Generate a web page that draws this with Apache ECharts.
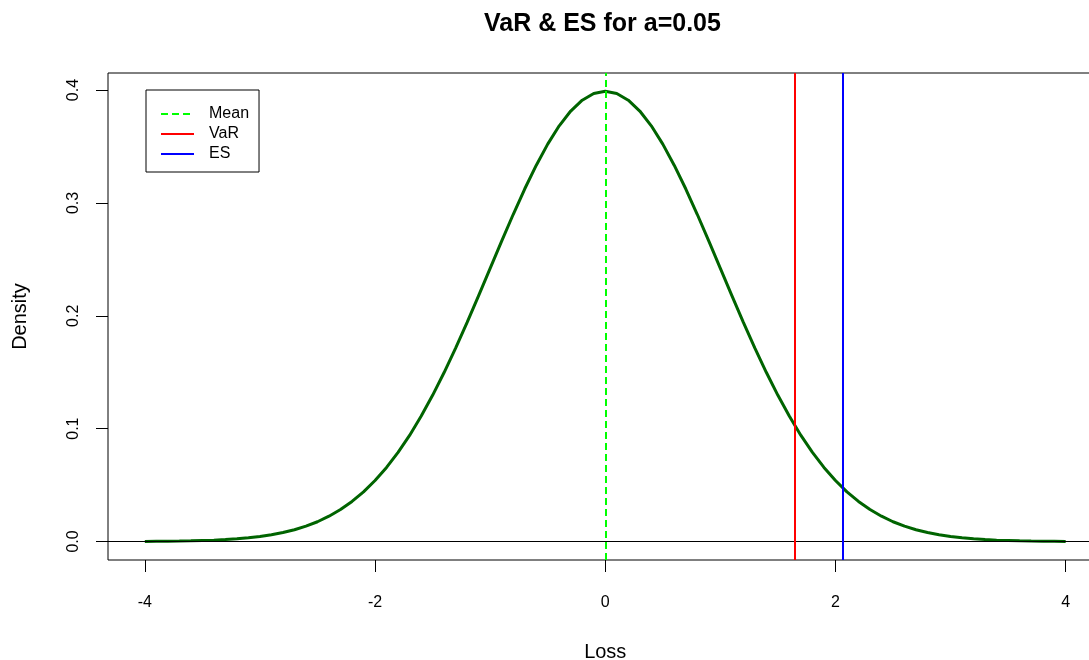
<!DOCTYPE html>
<html>
<head>
<meta charset="utf-8">
<script src="https://cdn.jsdelivr.net/npm/echarts@6/dist/echarts.min.js"></script>
<style>
  html, body { margin: 0; padding: 0; background: #ffffff; }
  #chart { width: 1089px; height: 660px; }
</style>
</head>
<body>
<div id="chart"></div>
<script>
// ---- data ----
const lossValues = [
  -4.0,-3.9,-3.8,-3.7,-3.6,-3.5,-3.4,-3.3,-3.2,-3.1,-3.0,-2.9,-2.8,-2.7,-2.6,-2.5,-2.4,-2.3,-2.2,-2.1,
  -2.0,-1.9,-1.8,-1.7,-1.6,-1.5,-1.4,-1.3,-1.2,-1.1,-1.0,-0.9,-0.8,-0.7,-0.6,-0.5,-0.4,-0.3,-0.2,-0.1,
  0.0,0.1,0.2,0.3,0.4,0.5,0.6,0.7,0.8,0.9,1.0,1.1,1.2,1.3,1.4,1.5,1.6,1.7,1.8,1.9,
  2.0,2.1,2.2,2.3,2.4,2.5,2.6,2.7,2.8,2.9,3.0,3.1,3.2,3.3,3.4,3.5,3.6,3.7,3.8,3.9,4.0
];
const densityValues = [
  0.0001,0.0002,0.0003,0.0004,0.0006,0.0009,0.0012,0.0017,0.0024,0.0033,0.0044,0.0060,0.0079,0.0104,0.0136,0.0175,0.0224,0.0283,0.0355,0.0440,
  0.0540,0.0656,0.0790,0.0940,0.1109,0.1295,0.1497,0.1714,0.1942,0.2179,0.2420,0.2661,0.2897,0.3123,0.3332,0.3521,0.3683,0.3814,0.3910,0.3970,
  0.3989,0.3970,0.3910,0.3814,0.3683,0.3521,0.3332,0.3123,0.2897,0.2661,0.2420,0.2179,0.1942,0.1714,0.1497,0.1295,0.1109,0.0940,0.0790,0.0656,
  0.0540,0.0440,0.0355,0.0283,0.0224,0.0175,0.0136,0.0104,0.0079,0.0060,0.0044,0.0033,0.0024,0.0017,0.0012,0.0009,0.0006,0.0004,0.0003,0.0002,0.0001
];
const meanValue = 0;
const varValue = 1.645;
const esValue = 2.063;
const xTicks = [-4, -2, 0, 2, 4];
const yTicks = [0, 0.1, 0.2, 0.3, 0.4];
const legendNames = ['Mean', 'VaR', 'ES'];
const titleText = 'VaR & ES for a=0.05';

// ---- chart ----
const FONT = "'Liberation Sans', Arial, sans-serif";
const chart = echarts.init(document.getElementById('chart'), null, { renderer: 'canvas' });

const curveData = lossValues.map((x, i) => [x, densityValues[i]]);

function vline(name, value, color, type) {
  return {
    name: name,
    type: 'line',
    data: [],
    symbol: 'none',
    showSymbol: false,
    lineStyle: { color: color, width: 2, type: type },
    itemStyle: { color: 'rgba(0,0,0,0)', borderWidth: 0 },
    markLine: {
      silent: true,
      symbol: 'none',
      label: { show: false },
      lineStyle: { color: color, width: 2, type: type },
      data: [{ xAxis: value }]
    }
  };
}

const option = {
  animation: false,
  backgroundColor: '#ffffff',
  title: {
    text: titleText,
    left: 484,
    top: 12,
    padding: 0,
    textStyle: { fontFamily: FONT, fontSize: 25, fontWeight: 'bold', color: '#000' }
  },
  legend: {
    data: legendNames,
    orient: 'vertical',
    left: 146,
    top: 90,
    padding: [14, 10, 8, 14],
    itemWidth: 33,
    itemHeight: 14,
    itemGap: 0,
    borderColor: '#000',
    borderWidth: 1,
    borderRadius: 0,
    backgroundColor: '#fff',
    selectedMode: false,
    itemStyle: { color: 'rgba(0,0,0,0)', borderWidth: 0 },
    textStyle: { fontFamily: FONT, fontSize: 16, color: '#000', lineHeight: 20, padding: [0, 0, 0, 10] }
  },
  grid: {
    left: 108,
    top: 73,
    width: 994.5,
    height: 487,
    containLabel: false,
    outerBoundsMode: 'none',
    show: true,
    borderColor: '#000',
    borderWidth: 1,
    backgroundColor: 'transparent'
  },
  xAxis: {
    type: 'value',
    min: -4.32,
    max: 4.32,
    position: 'bottom',
    name: 'Loss',
    nameLocation: 'middle',
    nameGap: 82,
    nameTextStyle: { fontFamily: FONT, fontSize: 20, color: '#000' },
    axisLine: { show: false, onZero: false },
    splitLine: { show: false },
    axisTick: { show: true, inside: false, length: 12, customValues: xTicks, lineStyle: { color: '#000' } },
    axisLabel: {
      customValues: xTicks,
      margin: 35,
      fontFamily: FONT,
      fontSize: 16,
      color: '#000',
      formatter: v => String(v)
    }
  },
  yAxis: {
    type: 'value',
    min: -0.0164,
    max: 0.4151,
    position: 'left',
    name: 'Density',
    nameLocation: 'middle',
    nameRotate: 90,
    nameGap: 78,
    nameTextStyle: { fontFamily: FONT, fontSize: 20, color: '#000' },
    axisLine: { show: false, onZero: false },
    splitLine: { show: false },
    axisTick: { show: true, inside: false, length: 12, customValues: yTicks, lineStyle: { color: '#000' } },
    axisLabel: {
      customValues: yTicks,
      rotate: 90,
      margin: 26,
      fontFamily: FONT,
      fontSize: 16,
      color: '#000',
      formatter: v => v.toFixed(1)
    }
  },
  series: [
    {
      name: 'density',
      type: 'line',
      data: curveData,
      symbol: 'none',
      smooth: false,
      lineStyle: { color: '#006400', width: 3 },
      markLine: {
        silent: true,
        symbol: 'none',
        label: { show: false },
        lineStyle: { color: '#000', width: 1, type: 'solid' },
        data: [{ yAxis: 0 }]
      },
      z: 3
    },
    vline('Mean', meanValue, '#00ff00', [7, 4]),
    vline('VaR', varValue, '#ff0000', 'solid'),
    vline('ES', esValue, '#0000ff', 'solid')
  ]
};

chart.setOption(option);
</script>
</body>
</html>
